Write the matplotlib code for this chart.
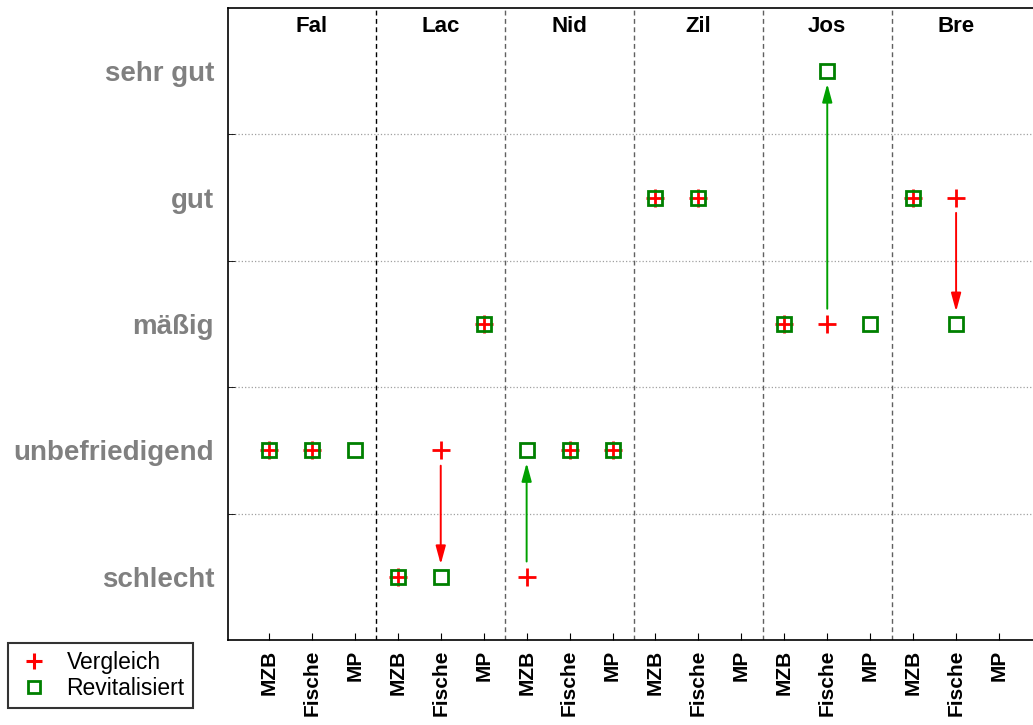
import numpy as np
import matplotlib
matplotlib.use('Agg')
import matplotlib.pyplot as plt

plt.rcParams['font.family'] = ['Liberation Sans', 'DejaVu Sans']

# Daten
gruppen = ['Fal', 'Lac', 'Nid', 'Zil', 'Jos', 'Bre']
indikatoren = ['MZB', 'Fische', 'MP']
stufen = ['schlecht', 'unbefriedigend', 'mäßig', 'gut', 'sehr gut']

nan = np.nan
vergleich = [[2, 2, nan], [1, 2, 3], [1, 2, 2], [4, 4, nan], [3, 3, nan], [4, 4, nan]]
revitalisiert = [[2, 2, 2], [1, 1, 3], [2, 2, 2], [4, 4, nan], [3, 5, 3], [4, 3, nan]]

n_ind = len(indikatoren)
x = np.arange(1, len(gruppen) * n_ind + 1)
v = np.array(vergleich, dtype=float).ravel()
r = np.array(revitalisiert, dtype=float).ravel()

fig = plt.figure(figsize=(10.33, 7.25), dpi=100)
ax = fig.add_axes([228 / 1033, 1 - 640 / 725, 1 - 228 / 1033, (640 - 8) / 725])

ax.set_xlim(1 - 41 / 43, 18 + 34 / 43)
ax.set_ylim(0.5, 5.5)

# Gitter
for yy in np.arange(1.5, 5, 1):
    ax.axhline(yy, color='#a0a0a0', linestyle=':', linewidth=0.9, zorder=1)
for i in range(1, len(gruppen)):
    farbe = 'black' if i == 1 else '#606060'
    ax.axvline(i * n_ind + 0.5, color=farbe, linestyle=(0, (3.5, 2.5)), linewidth=1.0, zorder=1)

# Pfeile
for xi, a, b in zip(x, v, r):
    if np.isnan(a) or np.isnan(b) or a == b:
        continue
    farbe = '#ff0000' if b < a else '#00a000'
    ax.annotate('', xy=(xi, b), xytext=(xi, a),
                arrowprops=dict(arrowstyle='-|>,head_length=1.1,head_width=0.3',
                                color=farbe, lw=1.4, shrinkA=11, shrinkB=9,
                                mutation_scale=10), zorder=2)

ax.plot(x, v, linestyle='none', marker='+', markersize=13, markeredgewidth=2,
        color='#ff0000', zorder=3)
ax.plot(x, r, linestyle='none', marker='s', markersize=10, markeredgewidth=2,
        markerfacecolor='none', markeredgecolor='#008000', zorder=4)

# Gruppentitel
for i, g in enumerate(gruppen):
    ax.text(i * n_ind + 2, 5.5 - 19 / 126.5, g, ha='center', va='center',
            fontsize=16, fontweight='bold')

ax.set_xticks(x)
ax.set_xticklabels(indikatoren * len(gruppen), rotation=90, fontsize=15,
                   fontweight='bold', va='top')
ax.tick_params(axis='x', direction='in', length=5, pad=7)

ax.set_yticks(range(1, 6))
ax.set_yticklabels(stufen, fontsize=20, fontweight='bold', color='#808080')
ax.set_yticks(np.arange(1.5, 5, 1), minor=True)
ax.tick_params(axis='y', which='major', length=0, pad=10)
ax.tick_params(axis='y', which='minor', direction='in', length=5)

ax.spines['right'].set_visible(False)
for s in ['left', 'top', 'bottom']:
    ax.spines[s].set_linewidth(1.2)

# Legende
h1, = ax.plot([], [], linestyle='none', marker='+', markersize=11, markeredgewidth=2.2,
              color='#ff0000')
h2, = ax.plot([], [], linestyle='none', marker='s', markersize=8.5, markeredgewidth=2,
              markerfacecolor='none', markeredgecolor='#008000')
leg = fig.legend([h1, h2], ['Vergleich', 'Revitalisiert'], loc='upper left',
                 bbox_to_anchor=(8 / 1033, 1 - 643 / 725), borderaxespad=0,
                 frameon=True, fancybox=False, edgecolor='black',
                 prop={'size': 16.5}, handletextpad=0.6,
                 borderpad=0.35, labelspacing=0.15, handlelength=1.6)
leg.get_frame().set_linewidth(1.5)

fig.savefig('out.png', dpi=100)
